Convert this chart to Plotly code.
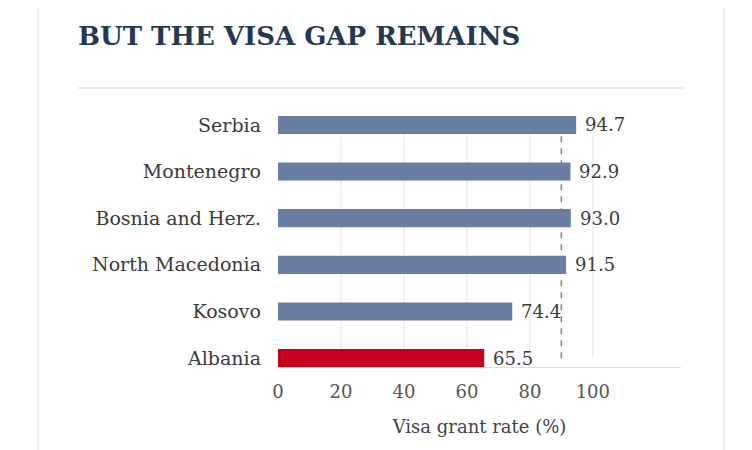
import plotly.graph_objects as go

countries = ["Albania", "Kosovo", "North Macedonia", "Bosnia and Herz.", "Montenegro", "Serbia"]
rates = [65.5, 74.4, 91.5, 93.0, 92.9, 94.7]
bar_colors = ["#c8001e", "#6a7ea3", "#6a7ea3", "#6a7ea3", "#6a7ea3", "#6a7ea3"]
x_ticks = [0, 20, 40, 60, 80, 100]
reference_rate = 90

FONT = "DejaVu Serif"
TXT = "#3a3a3a"

fig = go.Figure()
fig.add_trace(go.Bar(
    y=list(range(len(countries))), x=rates, orientation="h",
    marker=dict(color=bar_colors, line=dict(width=0)),
    width=0.39, hoverinfo="skip",
))

for t in x_ticks[1:]:
    fig.add_shape(type="line", xref="x", yref="y", x0=t, x1=t, y0=0, y1=4.8,
                  line=dict(color="#e6e6e6", width=1), layer="below")
fig.add_shape(type="line", xref="x", yref="y", x0=reference_rate, x1=reference_rate,
              y0=0, y1=4.8, line=dict(color="#808080", width=1.5, dash="6px,6px"), layer="below")

for i, v in enumerate(rates):
    fig.add_annotation(x=v, y=i, xref="x", yref="y", text=f"{v:.1f}", showarrow=False,
                       xanchor="left", xshift=7, font=dict(family=FONT, size=18, color=TXT))

# page body has an 8px margin: lay everything out in window pixels minus 8
OFF = 8
W, H = 736, 442
L, R, T, B = 278 - OFF, W - (681 - OFF), 116 - OFF, H - (367 - OFF)
pw, ph = W - L - R, H - T - B
def px(p): return (p - OFF - L) / pw
def py(p): return (H - B - (p - OFF)) / ph
for xb in (38, 724):
    fig.add_shape(type="line", xref="paper", yref="paper", x0=px(xb), x1=px(xb),
                  y0=py(0), y1=py(452), line=dict(color="#dedede", width=1))
fig.add_shape(type="line", xref="paper", yref="paper", x0=px(78), x1=px(683),
              y0=py(88), y1=py(88), line=dict(color="#e3e3e3", width=1.5))

fig.update_layout(
    width=W, height=H,
    margin=dict(l=L, r=R, t=T, b=B),
    paper_bgcolor="white", plot_bgcolor="white",
    showlegend=False,
    title=dict(text="<b>BUT THE VISA GAP REMAINS</b>", x=(78 - OFF) / W, xanchor="left",
               y=1 - (36 - OFF) / H, yanchor="middle", yref="container",
               font=dict(family=FONT, size=26, color="#233852")),
    xaxis=dict(range=[0, 128], tickvals=x_ticks, showgrid=False, zeroline=False,
               showline=True, linecolor="#dddddd", linewidth=1, ticks="",
               ticklabelstandoff=8,
               tickfont=dict(family=FONT, size=18, color="#555555"),
               title=dict(text="Visa grant rate (%)", standoff=19,
                          font=dict(family=FONT, size=18, color="#444444"))),
    yaxis=dict(range=[-0.19, 5.19], tickvals=list(range(len(countries))), ticktext=countries,
               showgrid=False, zeroline=False, showline=False, ticks="",
               ticklabelstandoff=16,
               tickfont=dict(family=FONT, size=19, color=TXT)),
)

fig.write_html("out.html")
